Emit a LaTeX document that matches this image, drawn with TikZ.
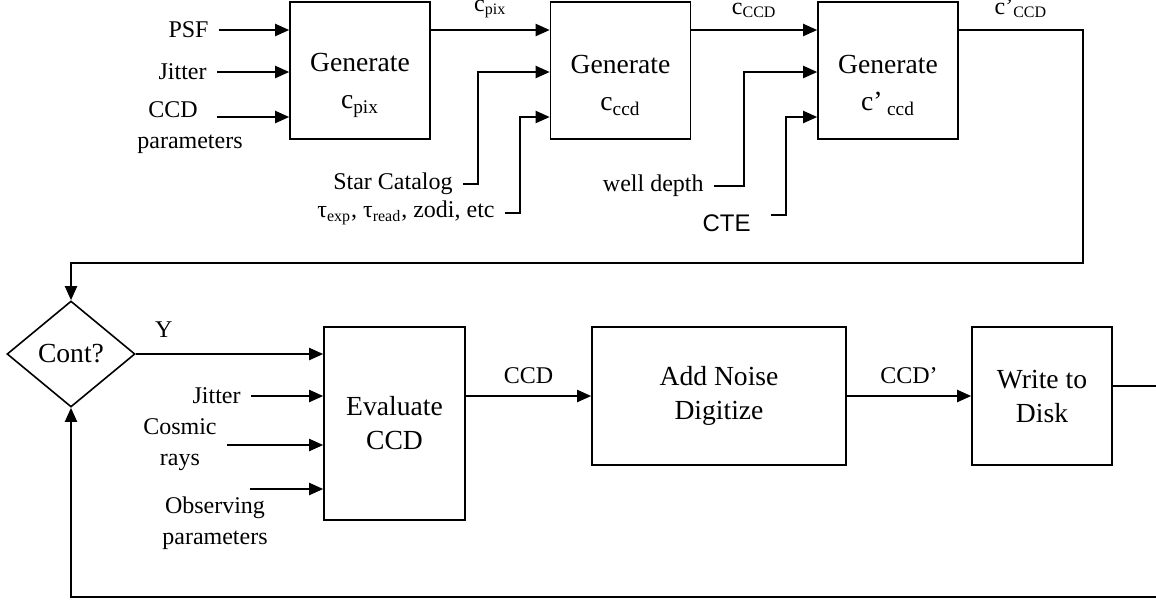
\documentclass[tikz,border=0pt]{standalone}
\usepackage{fontspec}
\setmainfont{Liberation Serif}
\newfontfamily\ctefont{Liberation Sans}
\usetikzlibrary{arrows.meta,shapes.geometric}
\newcommand{\genlift}{\rule{0pt}{24pt}}

\begin{document}
\begin{tikzpicture}
          [x=0.5pt,y=-0.5pt,
          box/.style={shape=rectangle,draw=black,line width=0.8pt,align=center,inner sep=0pt,font=\fontsize{13.8}{17}\selectfont},
          genbox/.style={box,minimum width=70pt,minimum height=68.5pt,font=\fontsize{13.8}{18.5}\selectfont},
          decision/.style={shape=diamond,draw=black,line width=0.8pt,minimum width=64pt,minimum height=53pt,inner sep=0pt,font=\fontsize{13.8}{16}\selectfont},
          txt/.style={align=center,inner sep=0pt,font=\fontsize{12}{15.5}\selectfont},
          inlab/.style={txt,anchor=east,inner xsep=5pt},
          flowlab/.style={above=5.5pt,inner sep=0pt,font=\fontsize{12}{15}\selectfont},
          arc/.style={-{Triangle[length=7pt,width=6pt]},line width=1pt}]

            \useasboundingbox (0,0) rectangle (1156,602);

            % generation chain
            \node (gpix) [genbox] at (360,70.5) {\genlift Generate\\c\textsubscript{pix}};
            \node (gccd) [genbox] at (620.5,70.5) {\genlift Generate\\c\textsubscript{ccd}};
            \node (gccd2) [genbox] at (888,70.5) {\genlift Generate\\c’\,\textsubscript{ccd}};

            \node (psf) [inlab] at (219,30) {PSF};
            \node (jit1) [inlab] at (217,72) {Jitter};
            \coordinate (ccdin) at (217,117);
            \node (ccdpar) [txt] at (190,128) {CCD\hspace*{17pt}\\parameters};
            \node (star) [inlab] at (463,184) {Star Catalog};
            \node (tau) [inlab] at (505,213) {τ\textsubscript{exp}, τ\textsubscript{read}, zodi, etc};
            \node (well) [inlab] at (714,186) {well depth};
            \node (cte) [inlab,inner xsep=10pt,yshift=-4pt,font=\ctefont\fontsize{12}{15}\selectfont] at (771,215) {CTE};

            \draw [arc] (psf) -- (psf -| gpix.west);
            \draw [arc] (jit1) -- (jit1 -| gpix.west);
            \draw [arc] (ccdin) -- (ccdin -| gpix.west);
            \draw [arc] (gpix.east |- psf) -- node [flowlab] {c\textsubscript{pix}} (gccd.west |- psf);
            \draw [arc] (star.east) -- ++(15,0) |- (gccd.west |- jit1);
            \draw [arc] (tau.east) -- ++(15,0) |- (gccd.west |- ccdin);
            \draw [arc] (gccd.east |- psf) -- node [flowlab] {c\textsubscript{CCD}} (gccd2.west |- psf);
            \draw [arc] (well.east) -- ++(30,0) |- (gccd2.west |- jit1);
            \draw [arc] ([yshift=4pt]cte.east) -- ++(15,0) |- (gccd2.west |- ccdin);

            % loop
            \node (cont) [decision] at (71,354) {Cont?};
            \node (eval) [box,minimum width=70.5pt,minimum height=96.5pt] at (394.5,423.5) {Evaluate\\CCD};
            \node (noise) [box,minimum width=127pt,minimum height=69pt] at (719,396) {Add Noise\\Digitize};
            \node (disk) [box,minimum width=70pt,minimum height=69pt] at (1042,396) {Write to\\Disk};

            \node (jit2) [inlab] at (251,396) {Jitter};
            \node (cosmic) [inlab] at (227,445) {Cosmic\\rays};
            \coordinate (obsin) at (250,489);
            \node (obs) [txt] at (215,523) {Observing\\parameters};

            \coordinate (rturn) at (1083,263);
            \coordinate (loopc) at (1180,597);

            \draw [arc] (gccd2.east |- psf) -- node [flowlab] {c’\textsubscript{CCD}} (rturn |- psf) -- (rturn) -| (cont.north);
            \draw [arc] (cont) -- node [flowlab,above=2.5pt,pos=0.15] {Y} (cont.east -| eval.west);
            \draw [arc] (jit2) -- (jit2 -| eval.west);
            \draw [arc] (cosmic) -- (cosmic -| eval.west);
            \draw [arc] (obsin) -- (obsin -| eval.west);
            \draw [arc] (eval.east |- noise) -- node [flowlab] {CCD} (noise);
            \draw [arc] (noise) -- node [flowlab] {CCD’} (disk);
            \draw [arc] ([yshift=5pt]disk.east) -| (loopc) -| (cont.south);

        \end{tikzpicture}
\end{document}
